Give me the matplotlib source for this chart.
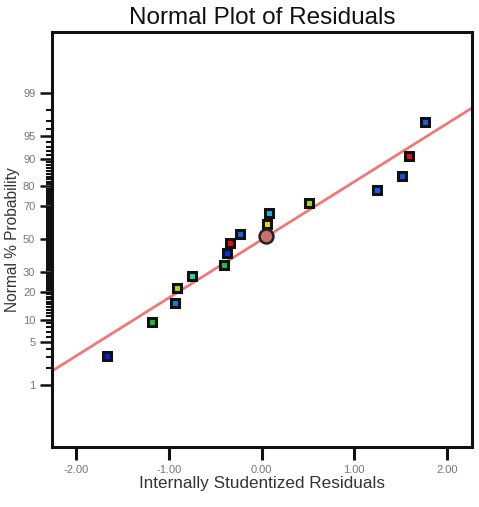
import matplotlib
matplotlib.use("Agg")
import matplotlib.pyplot as plt
from statistics import NormalDist

# residuals (x) and normal % probability (y)
residuals = [-1.665, -1.18, -0.935, -0.913, -0.755, -0.407, -0.37, -0.342,
             -0.23, 0.054, 0.079, 0.51, 1.248, 1.51, 1.589, 1.758]
probability = [3.1, 9.4, 15.5, 21.7, 27.9, 34.3, 41.0, 47.3,
               53.6, 59.3, 65.9, 71.9, 78.3, 84.4, 90.8, 96.9]
point_colors = ["#0a1ee0", "#18c030", "#1a78d8", "#b0d818", "#20d8a8", "#18c048",
                "#0a30e8", "#e81010", "#1a60e0", "#f0d810", "#20b0e0", "#a8d818",
                "#1a60e8", "#1050e8", "#e01010", "#1a60e0"]

# highlighted point (circle)
circle_x = [0.043]
circle_p = [52.0]

# fitted line in normal-quantile space
line_slope = 0.925
line_intercept = -0.01

x_ticks = [-2.0, -1.0, 0.0, 1.0, 2.0]
y_major = [1, 5, 10, 20, 30, 50, 70, 80, 90, 95, 99]
y_minor = list(range(1, 100))

nd = NormalDist()
z = lambda p: nd.inv_cdf(p / 100.0)

plt.rcParams["font.family"] = ["Liberation Sans", "DejaVu Sans"]

fig = plt.figure(figsize=(4.79, 5.07), dpi=100)
ax = fig.add_axes([52 / 479, 60 / 507, 420 / 479, 415 / 507])

xmin, xmax = -2.26, 2.27
ax.set_xlim(xmin, xmax)
ax.set_ylim(-3.31, 3.30)

# fit line
ax.plot([xmin, xmax], [line_slope * xmin + line_intercept, line_slope * xmax + line_intercept],
        color="#f07878", lw=2, zorder=2, solid_capstyle="butt")

for x, p, c in zip(residuals, probability, point_colors):
    ax.plot(x, z(p), marker="s", ms=5.2, mew=2.2, mfc=c, mec="#111111",
            ls="none", zorder=3)

ax.plot(circle_x, [z(p) for p in circle_p], marker="o", ms=10, mew=1.8,
        mfc="#c87070", mec="#222222", ls="none", zorder=4)

# axes style
for s in ax.spines.values():
    s.set_linewidth(2.2)
    s.set_color("#111111")

ax.set_xticks(x_ticks)
ax.set_xticklabels(["%.2f" % v for v in x_ticks])
ax.set_yticks([z(p) for p in y_major])
ax.set_yticklabels([str(p) for p in y_major])
ax.set_yticks([z(p) for p in y_minor if p not in y_major], minor=True)

ax.tick_params(axis="x", direction="out", length=9, width=2.2, pad=4,
               labelsize=8, labelcolor="#777777", color="#111111")
ax.tick_params(axis="y", which="major", direction="out", length=9, width=1.8, pad=3,
               labelsize=8, labelcolor="#777777", color="#111111")
ax.tick_params(axis="y", which="minor", direction="out", length=4.5, width=1.5,
               color="#111111")

ax.set_title("Normal Plot of Residuals", fontsize=17.5, color="#111111", pad=6)
ax.set_xlabel("Internally Studentized Residuals", fontsize=12.3, color="#333333", labelpad=1)
ax.set_ylabel("Normal % Probability", fontsize=11.2, color="#333333", labelpad=2)

fig.savefig("out.png", dpi=100)
